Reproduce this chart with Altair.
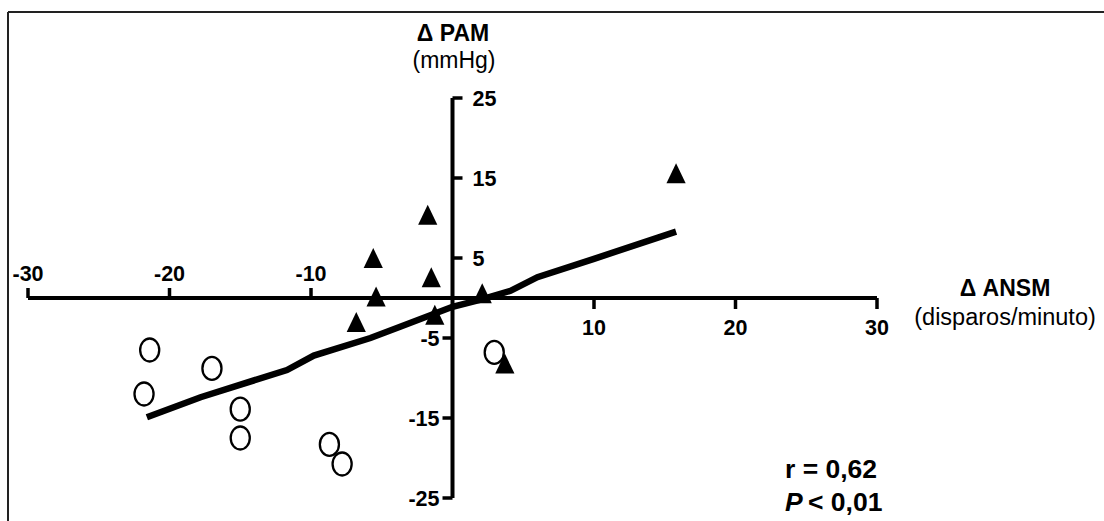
import altair as alt
import pandas as pd

# ---- data ----
circle_x = [-21.4, -21.8, -17.0, -15.0, -15.0, -8.7, -7.8, 2.95]
circle_y = [-6.5, -12.0, -8.8, -13.9, -17.5, -18.3, -20.75, -6.8]

triangle_x = [15.8, -1.75, -5.6, -1.5, -5.4, 2.1, -6.8, -1.25, 3.7]
triangle_y = [15.6, 10.4, 5.0, 2.6, 0.2, 0.6, -3.0, -2.1, -8.2]

line_x = [-21.6, -17.8, -11.7, -9.8, -5.8, -3.7, 0.0, 2.0, 4.1, 6.0, 10.0, 15.8]
line_y = [-14.9, -12.4, -9.0, -7.2, -5.0, -3.6, -1.1, -0.2, 0.9, 2.6, 4.9, 8.3]

x_neg_ticks = [-30, -20, -10]
x_pos_ticks = [10, 20, 30]
y_pos_ticks = [25, 15, 5]
y_neg_ticks = [-5, -15, -25]

x_domain = [-30, 30]
y_domain = [-25, 25]

# ---- layout / style ----
W, H = 1104, 521
FONT = "Liberation Sans"
xs = alt.Scale(domain=x_domain, range=[28, 877], nice=False, zero=False)
ys = alt.Scale(domain=y_domain, range=[498, 98], nice=False, zero=False)


def X(f):
    return alt.X(f, type="quantitative", scale=xs, axis=None)


def Y(f):
    return alt.Y(f, type="quantitative", scale=ys, axis=None)


one = pd.DataFrame({"k": [0]})

frame_top = alt.Chart(one).mark_rule(color="#222222", strokeWidth=2).encode(
    x=alt.value(8), x2=alt.value(W), y=alt.value(12))
frame_left = alt.Chart(one).mark_rule(color="#222222", strokeWidth=2).encode(
    x=alt.value(8), y=alt.value(12), y2=alt.value(H))

axes_df = pd.DataFrame({
    "x": [x_domain[0], 0], "x2": [x_domain[1], 0],
    "y": [0, y_domain[0]], "y2": [0, y_domain[1]],
})
axes = alt.Chart(axes_df).mark_rule(color="black", strokeWidth=4).encode(
    x=X("x"), x2="x2", y=Y("y"), y2="y2")

xneg_df = pd.DataFrame({"x": x_neg_ticks, "y": [0] * len(x_neg_ticks),
                        "label": [str(v) for v in x_neg_ticks]})
xpos_df = pd.DataFrame({"x": x_pos_ticks, "y": [0] * len(x_pos_ticks),
                        "label": [str(v) for v in x_pos_ticks]})
ypos_df = pd.DataFrame({"x": [0] * len(y_pos_ticks), "y": y_pos_ticks,
                        "label": [str(v) for v in y_pos_ticks]})
yneg_df = pd.DataFrame({"x": [0] * len(y_neg_ticks), "y": y_neg_ticks,
                        "label": [str(v) for v in y_neg_ticks]})

tick_w = 3.5
xneg_ticks = alt.Chart(xneg_df).mark_rule(color="black", strokeWidth=tick_w, y2Offset=-10).encode(
    x=X("x"), y=Y("y"), y2="y")
xpos_ticks = alt.Chart(xpos_df).mark_rule(color="black", strokeWidth=tick_w, y2Offset=11).encode(
    x=X("x"), y=Y("y"), y2="y")
ypos_ticks = alt.Chart(ypos_df).mark_rule(color="black", strokeWidth=tick_w, x2Offset=10).encode(
    x=X("x"), x2="x", y=Y("y"))
yneg_ticks = alt.Chart(yneg_df).mark_rule(color="black", strokeWidth=tick_w, x2Offset=-10).encode(
    x=X("x"), x2="x", y=Y("y"))

lab = dict(font=FONT, fontSize=21.5, fontWeight="bold", color="black")
xneg_labels = alt.Chart(xneg_df).mark_text(align="center", baseline="alphabetic", dy=-17, **lab).encode(
    x=X("x"), y=Y("y"), text="label:N")
xpos_labels = alt.Chart(xpos_df).mark_text(align="center", baseline="alphabetic", dy=37, **lab).encode(
    x=X("x"), y=Y("y"), text="label:N")
ypos_labels = alt.Chart(ypos_df).mark_text(align="left", baseline="alphabetic", dx=20, dy=8, **lab).encode(
    x=X("x"), y=Y("y"), text="label:N")
yneg_labels = alt.Chart(yneg_df).mark_text(align="right", baseline="alphabetic", dx=-13, dy=8, **lab).encode(
    x=X("x"), y=Y("y"), text="label:N")

line_df = pd.DataFrame({"x": line_x, "y": line_y, "i": list(range(len(line_x)))})
reg_line = alt.Chart(line_df).mark_line(color="black", strokeWidth=6.5, strokeCap="butt").encode(
    x=X("x"), y=Y("y"), order="i:Q")

ellipse = "M0,-1A0.83,1,0,1,1,0,1A0.83,1,0,1,1,0,-1Z"
tri = "M0,-1L-0.96,1L0.96,1Z"

circ_df = pd.DataFrame({"x": circle_x, "y": circle_y})
circles = alt.Chart(circ_df).mark_point(shape=ellipse, size=529, filled=False, color="black",
                                        strokeWidth=2.3, opacity=1).encode(x=X("x"), y=Y("y"))

tri_df = pd.DataFrame({"x": triangle_x, "y": triangle_y})
triangles = alt.Chart(tri_df).mark_point(shape=tri, size=400, filled=True, color="black",
                                         opacity=1, strokeWidth=0).encode(x=X("x"), y=Y("y"))


def txt(s, x, y, size=23, weight="bold", align="center", style="normal"):
    return alt.Chart(one).mark_text(font=FONT, fontSize=size, fontWeight=weight, align=align,
                                    baseline="alphabetic", fontStyle=style, color="black").encode(
        x=alt.value(x), y=alt.value(y), text=alt.value(s))


titles = [
    txt("Δ PAM", 453, 41),
    txt("(mmHg)", 454, 68, weight="normal"),
    txt("Δ ANSM", 1005, 296),
    txt("(disparos/minuto)", 1005, 325, size=23.5, weight="normal"),
    txt("r = 0,62", 785, 478, size=26.5, align="left"),
    txt("P", 785, 511, size=26.5, align="left", style="italic"),
    txt("< 0,01", 808, 511, size=26.5, align="left"),
]

chart = alt.layer(
    frame_top, frame_left, axes,
    xneg_ticks, xpos_ticks, ypos_ticks, yneg_ticks,
    xneg_labels, xpos_labels, ypos_labels, yneg_labels,
    circles, reg_line, triangles, *titles,
).properties(
    width=W, height=H, autosize=alt.AutoSizeParams(type="none"), padding=0,
    background="white",
).configure_view(strokeWidth=0)

chart.save("out.html", embed_options={"renderer": "svg", "actions": False})
